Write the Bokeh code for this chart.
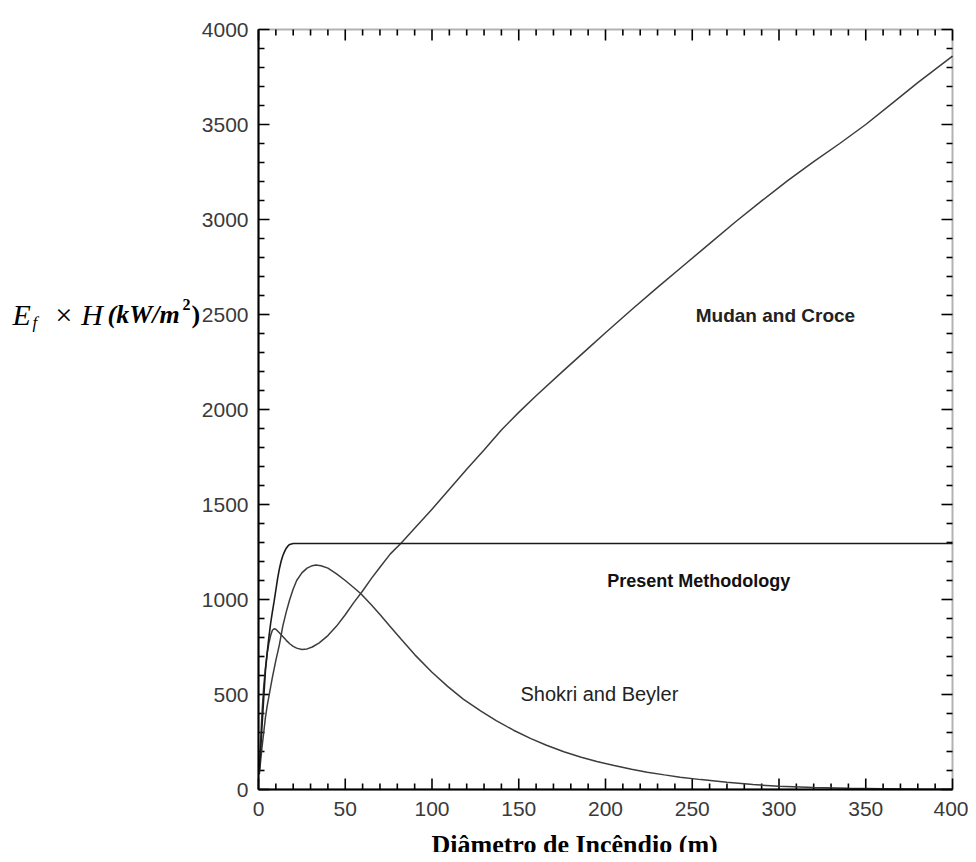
from bokeh.plotting import figure
from bokeh.models import Range1d, LinearAxis, SingleIntervalTicker, Label, BoxAnnotation
from bokeh.embed import file_html
from bokeh.resources import INLINE

# ---- data ----
diam_mudan = [0.5, 1, 2, 3, 4, 5, 6, 7, 8, 9, 10, 12, 14, 16, 18, 20, 22, 25, 28, 31, 35, 40,
              45, 50, 55, 60, 65, 70, 76, 82, 90, 100, 110, 120, 130, 140, 150, 160, 175, 190,
              200, 215, 230, 245, 260, 275, 290, 305, 320, 335, 350, 365, 380, 400]
ef_mudan = [120, 220, 400, 540, 640, 715, 770, 810, 838, 846, 843, 825, 805, 785, 767, 753, 744,
            737, 740, 750, 772, 810, 860, 920, 985, 1045, 1110, 1170, 1240, 1295, 1375, 1475,
            1580, 1685, 1787, 1892, 1985, 2072, 2198, 2322, 2404, 2525, 2643, 2758, 2873, 2988,
            3098, 3205, 3305, 3400, 3500, 3610, 3720, 3860]

diam_shokri = [0.5, 1, 2, 3, 4, 5, 6, 7, 8, 10, 12, 14, 16, 18, 20, 22, 25, 28, 31, 33, 36, 40,
               45, 50, 55, 59, 65, 70, 76, 82, 90, 100, 109, 118, 128, 137, 147, 157, 166, 176,
               186, 195, 205, 215, 224, 234, 243, 255, 270, 285, 300, 320, 340, 360, 380, 400]
ef_shokri = [80, 130, 220, 300, 380, 440, 490, 540, 590, 680, 760, 860, 935, 1000, 1055, 1100,
             1140, 1165, 1178, 1182, 1178, 1165, 1135, 1100, 1062, 1030, 972, 921, 857, 793, 710,
             617, 543, 476, 414, 363, 312, 268, 233, 199, 170, 147, 126, 107, 91, 77, 65, 52, 38,
             26, 17, 10, 6, 4, 2, 1]

diam_present = [0.5, 1, 2, 3, 4, 5, 6, 7, 8, 9, 10, 11, 12, 13, 14, 15, 16, 17, 18, 20, 30, 400]
ef_present = [100, 170, 330, 480, 626, 720, 802, 875, 935, 990, 1050, 1110, 1160, 1200, 1230,
              1252, 1270, 1282, 1290, 1295, 1295, 1295]

x_min, x_max, x_major, x_minor = 0, 400, 50, 10
y_min, y_max, y_major, y_minor = 0, 4000, 500, 100

curve_labels = ["Mudan and Croce", "Present Methodology", "Shokri and Beyler"]
x_title = "Diâmetro de Incêndio (m)"

# ---- layout sizes (pixels) ----
W, H = 968, 852
FRAME_L, FRAME_R, FRAME_T, FRAME_B = 258, 952, 29, 789   # plot box in page pixels
dx_per_px = (x_max - x_min) / (FRAME_R - FRAME_L)
dy_per_px = (y_max - y_min) / (FRAME_B - FRAME_T)
MAJOR_PX, MINOR_PX = 11, 6


def px_x(px):
    return x_min + (px - FRAME_L) * dx_per_px


def px_y(py):
    return y_min + (FRAME_B - py) * dy_per_px


# the drawing area covers the whole canvas, so titles and tick labels lie inside it
p = figure(width=W, height=H, output_backend="svg", toolbar_location=None,
           x_range=Range1d(px_x(0), px_x(W)), y_range=Range1d(px_y(H), px_y(0)),
           min_border_left=0, min_border_right=0, min_border_top=0, min_border_bottom=0,
           x_axis_location=None, y_axis_location=None)
p.grid.visible = False
p.outline_line_color = None
p.background_fill_color = "white"
p.border_fill_color = "white"


def style_axis(ax, standoff):
    ax.axis_line_color = "black"
    ax.axis_line_width = 2
    ax.major_tick_in = 0
    ax.major_tick_out = 0
    ax.minor_tick_in = 0
    ax.minor_tick_out = 0
    ax.major_tick_line_color = None
    ax.minor_tick_line_color = None
    ax.major_label_text_font = "Liberation Sans"
    ax.major_label_text_font_size = "21px"
    ax.major_label_text_color = "#3a3a3a"
    ax.major_label_standoff = standoff
    return ax


xaxis = LinearAxis(fixed_location=y_min, bounds=(x_min, x_max),
                   ticker=SingleIntervalTicker(interval=x_major, num_minor_ticks=x_major // x_minor))
p.add_layout(style_axis(xaxis, 12), "below")
yaxis = LinearAxis(fixed_location=x_min, bounds=(y_min, y_max),
                   ticker=SingleIntervalTicker(interval=y_major, num_minor_ticks=y_major // y_minor))
p.add_layout(style_axis(yaxis, 10), "left")

# plot box
p.add_layout(BoxAnnotation(left=x_min, right=x_max, bottom=y_min, top=y_max,
                           fill_color=None, line_color="black", line_width=2))

# inward tick marks on all four edges
x_major_ticks = list(range(x_min, x_max + 1, x_major))
x_minor_ticks = [t for t in range(x_min, x_max + 1, x_minor) if t % x_major]
y_major_ticks = list(range(y_min, y_max + 1, y_major))
y_minor_ticks = [t for t in range(y_min, y_max + 1, y_minor) if t % y_major]
tick_style = dict(line_color="black", line_width=1.6, line_cap="butt")
for ticks, px in ((x_major_ticks, MAJOR_PX), (x_minor_ticks, MINOR_PX)):
    L = px * dy_per_px
    n = len(ticks)
    p.segment(x0=ticks, y0=[y_max] * n, x1=ticks, y1=[y_max - L] * n, **tick_style)
    p.segment(x0=ticks, y0=[y_min] * n, x1=ticks, y1=[y_min + L] * n, **tick_style)
for ticks, px in ((y_major_ticks, MAJOR_PX), (y_minor_ticks, MINOR_PX)):
    L = px * dx_per_px
    n = len(ticks)
    p.segment(x0=[x_max] * n, y0=ticks, x1=[x_max - L] * n, y1=ticks, **tick_style)
    p.segment(x0=[x_min] * n, y0=ticks, x1=[x_min + L] * n, y1=ticks, **tick_style)

# curves
p.line(diam_mudan, ef_mudan, line_color="#3c3c3c", line_width=1.5)
p.line(diam_shokri, ef_shokri, line_color="#3c3c3c", line_width=1.5)
p.line(diam_present, ef_present, line_color="#1a1a1a", line_width=1.6)

# curve annotations
p.add_layout(Label(x=252, y=2495, text=curve_labels[0], text_font="Liberation Sans",
                   text_font_style="bold", text_font_size="19px", text_color="#222222",
                   text_baseline="middle"))
p.add_layout(Label(x=201, y=1100, text=curve_labels[1], text_font="Liberation Sans",
                   text_font_style="bold", text_font_size="18px", text_color="#111111",
                   text_baseline="middle"))
p.add_layout(Label(x=151, y=505, text=curve_labels[2], text_font="Liberation Sans",
                   text_font_size="20px", text_color="#222222", text_baseline="middle"))

# x-axis title
p.add_layout(Label(x=px_x(431), y=px_y(844), text=x_title, text_font="Liberation Serif",
                   text_font_style="bold", text_font_size="26px", text_color="black",
                   text_baseline="alphabetic"))

# y-axis title: E_f × H (kW/m²), pieces placed by page pixel (left, baseline)
serif = "Liberation Serif"
pieces = [
    (12, 314, "E", "italic", "30px"),
    (32, 322, "f", "italic", "17px"),
    (53, 314, "× H", "italic", "30px"),
    (107, 314, "(kW/m", "bold italic", "26px"),
    (182, 304, "2", "bold", "16px"),
    (191, 314, ")", "bold", "26px"),
]
for px, py, txt, style, size in pieces:
    p.add_layout(Label(x=px_x(px), y=px_y(py), text=txt, text_font=serif, text_font_style=style,
                       text_font_size=size, text_color="black", text_baseline="alphabetic"))

open("out.html", "w").write(file_html(p, INLINE))
